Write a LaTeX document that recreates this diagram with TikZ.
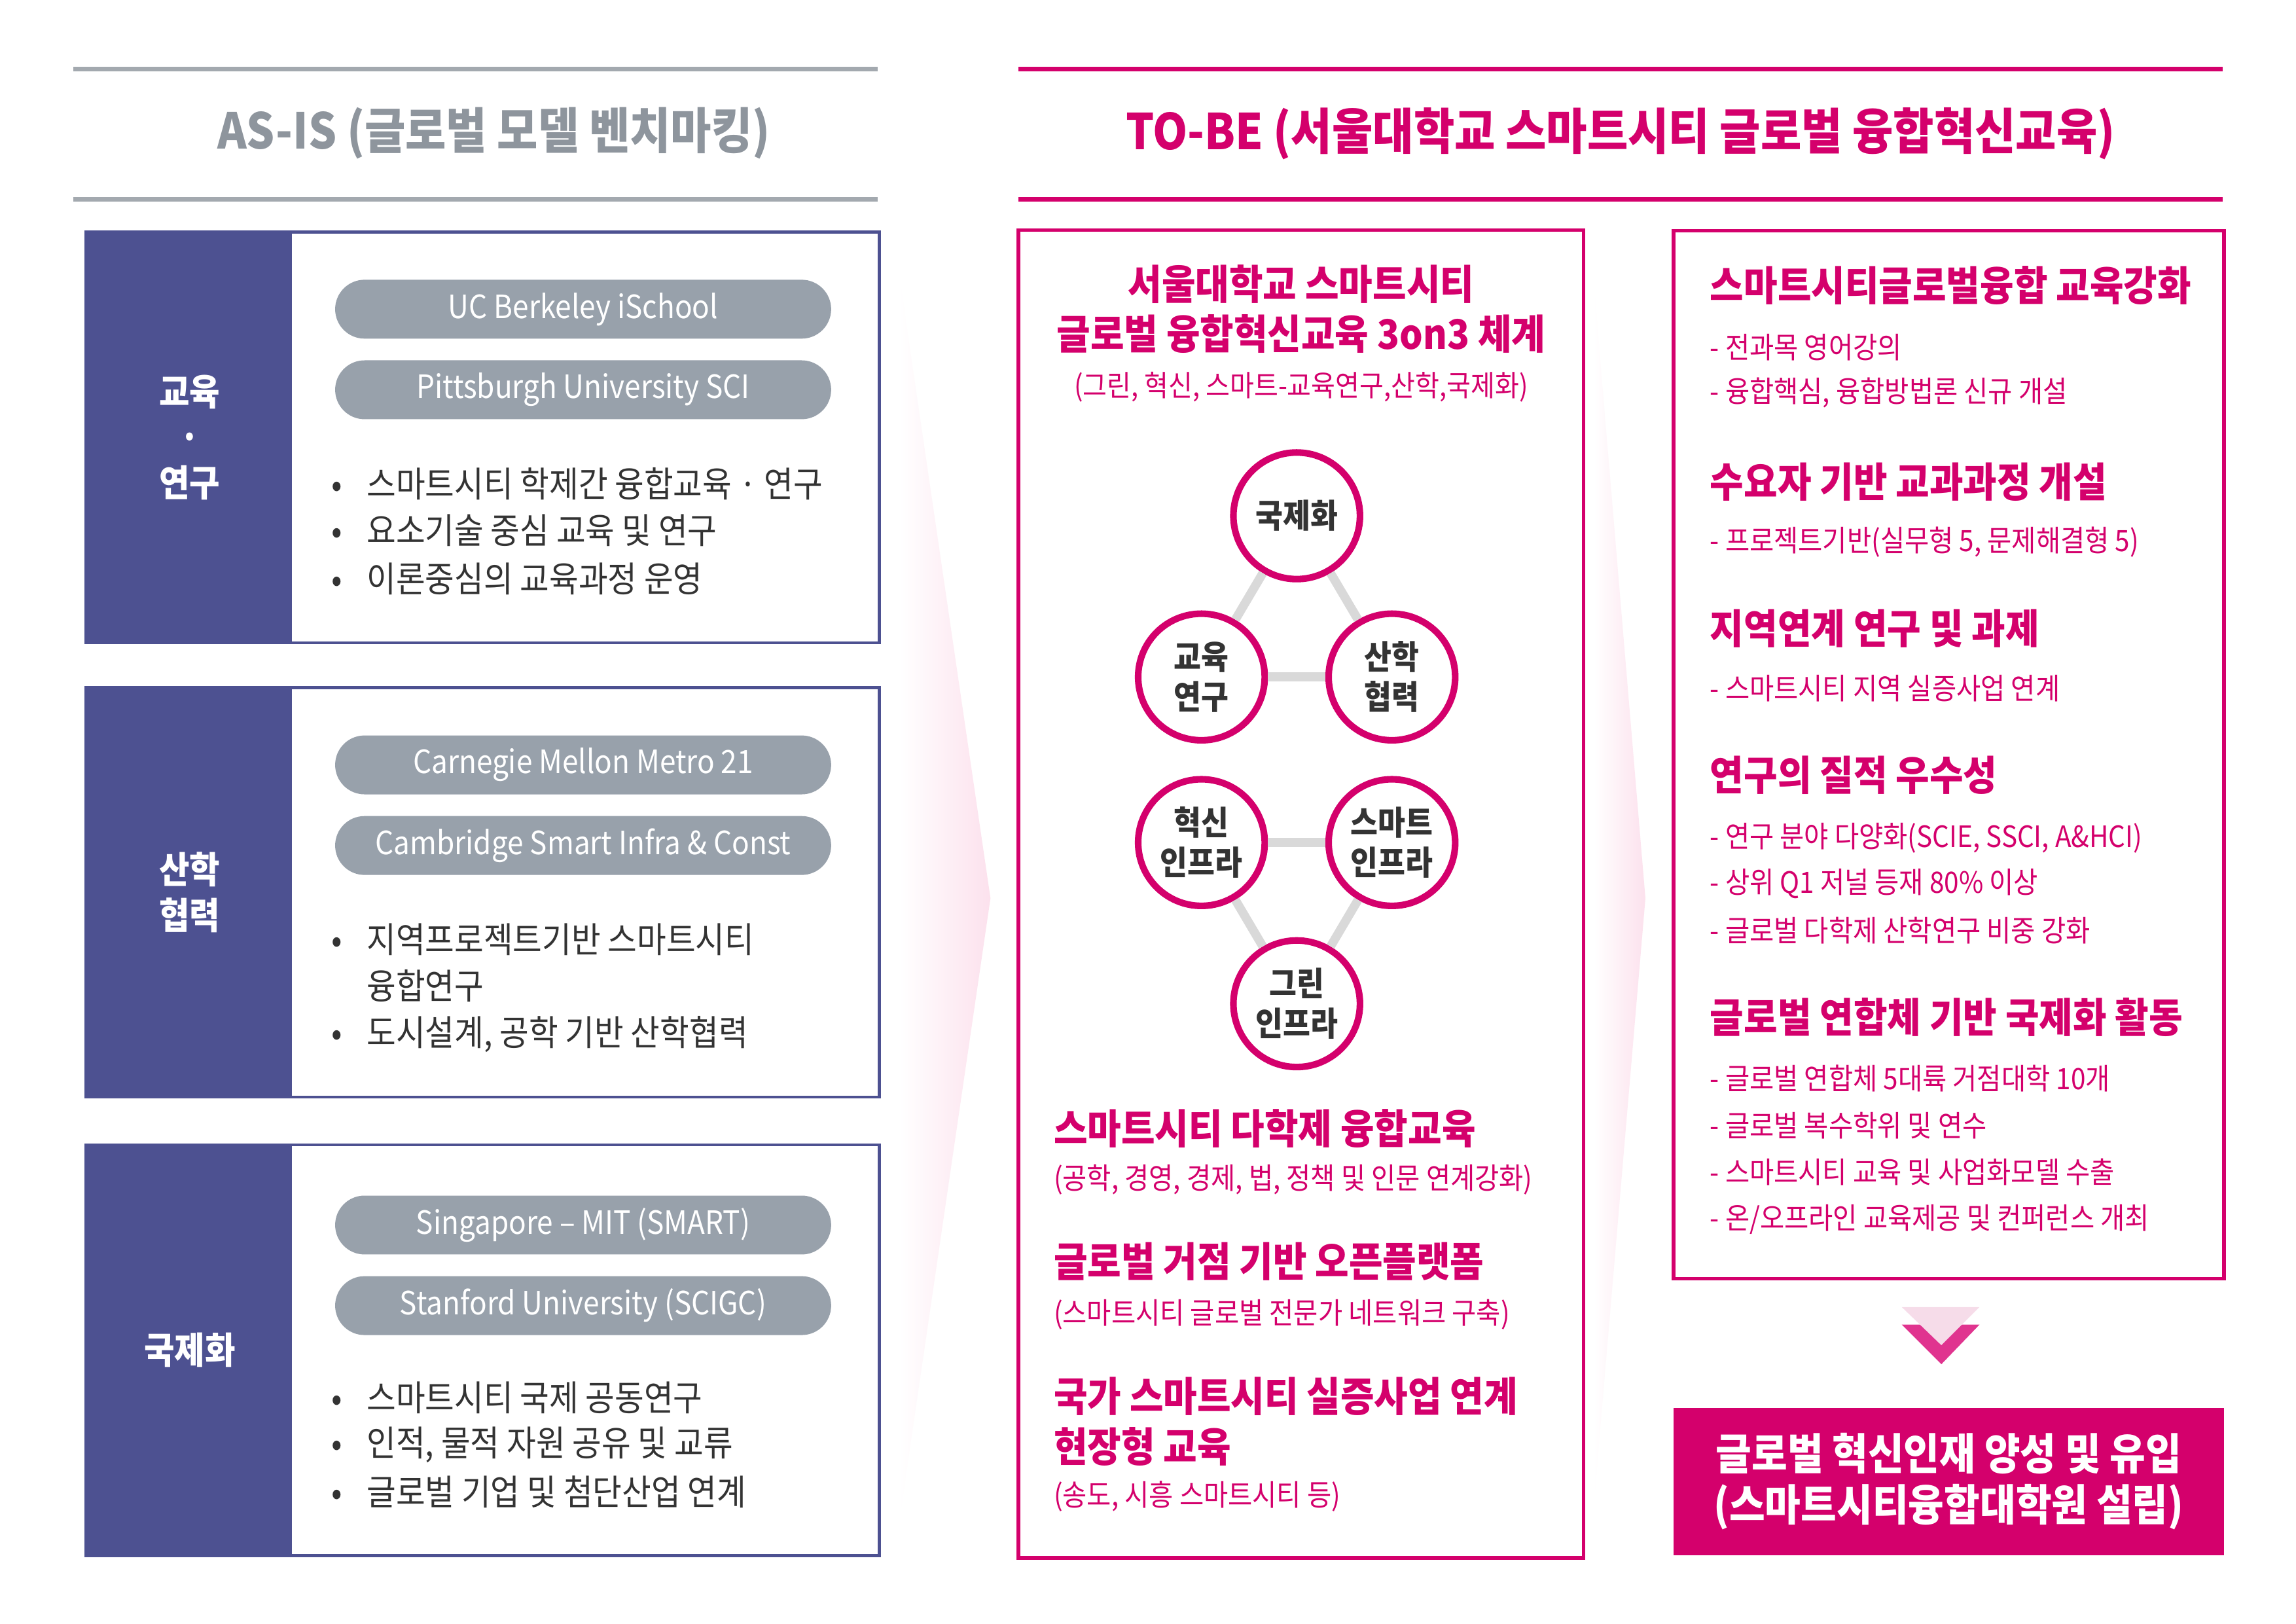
\documentclass[tikz,border=0pt]{standalone}
\usepackage{fontspec}
\setmainfont{Noto Sans CJK KR}[FakeStretch=0.9]
\definecolor{mag}{HTML}{D4006C}
\definecolor{navy}{HTML}{4D5191}
\definecolor{pillg}{HTML}{98A1AB}
\definecolor{titleg}{HTML}{8E959D}
\definecolor{lineg}{HTML}{A3A9AF}
\definecolor{txt}{HTML}{333333}
\definecolor{conng}{HTML}{D9D9D9}
\definecolor{pinkl}{HTML}{FCE1ED}
\definecolor{arrowd}{HTML}{E0348F}
\definecolor{arrowl}{HTML}{F6DCE9}
\tikzset{
  hdrline/.style={line width=3pt},
  boxn/.style={draw=navy, line width=2pt, inner sep=0pt, outer sep=0pt, fill=white},
  sidebar/.style={fill=navy, inner sep=0pt, outer sep=0pt, text=white, align=center,
    font=\bfseries\fontsize{25}{31}\selectfont},
  boxm/.style={draw=mag, line width=2.5pt, inner sep=0pt, outer sep=0pt},
  pill/.style={fill=pillg, rounded corners=20pt, minimum width=337pt, minimum height=40pt,
    text=white, inner sep=0pt, font=\fontsize{21.8}{24}\selectfont},
  bul/.style={anchor=west, text=txt, inner sep=0pt, font=\fontsize{24}{32}\selectfont, align=left},
  ttl/.style={font=\bfseries\fontsize{33.5}{40}\selectfont, inner sep=0pt},
  mtitle/.style={text=mag, align=center, inner sep=0pt, font=\bfseries\fontsize{27.7}{34}\selectfont},
  msub/.style={text=mag, inner sep=0pt, font=\fontsize{19.8}{22}\selectfont},
  circ/.style={circle, draw=mag, line width=4.5pt, fill=white, minimum size=86pt, inner sep=0pt,
    align=center, text=txt, font=\bfseries\fontsize{22.5}{27}\selectfont},
  conn/.style={draw=conng, line width=6pt},
  head/.style={anchor=west, text=mag, inner sep=0pt, align=left, font=\bfseries\fontsize{27.7}{34}\selectfont},
  sub/.style={anchor=west, text=mag, inner sep=0pt, font=\fontsize{20}{22}\selectfont},
}
\newcommand{\bl}{\makebox[24pt][l]{•}}
\begin{document}
\begin{tikzpicture}[x=0.9955pt,y=-0.9955pt]
\useasboundingbox (0,0) rectangle (1567.05,1108.0);
\fill[white] (0,0) rectangle (1567.05,1108.0);

% gradient chevrons
\shade[left color=white, right color=pinkl] (614,190) -- (676,613) -- (614,1036) -- cycle;
\shade[left color=white, right color=pinkl] (1088,196) -- (1123,613) -- (1088,1024) -- cycle;

% headers
\draw[hdrline, draw=lineg] (50,47) -- (599,47);
\draw[hdrline, draw=lineg] (50,136) -- (599,136);
\node[ttl, text=titleg] (asis) at (337,91) {AS-IS (글로벌 모델 벤치마킹)};
\draw[hdrline, draw=mag] (695,47) -- (1517,47);
\draw[hdrline, draw=mag] (695,136) -- (1517,136);
\node[ttl, text=mag] (tobe) at (1106,91) {TO-BE (서울대학교 스마트시티 글로벌 융합혁신교육)};

% ===== left box 1
\node[boxn, minimum width=539pt, minimum height=279pt] (b1) at (329.5,298.5) {};
\node[sidebar, minimum width=139pt, minimum height=279pt] (s1) at (129.5,298.5) {교육\\·\\연구};
\node[pill] (p11) at (398,211) {UC Berkeley iSchool};
\node[pill] (p12) at (398,266) {Pittsburgh University SCI};
\node[bul] (t11) at (226,330) {\bl 스마트시티 학제간 융합교육 · 연구};
\node[bul] (t12) at (226,362) {\bl 요소기술 중심 교육 및 연구};
\node[bul] (t13) at (226,395) {\bl 이론중심의 교육과정 운영};

% ===== left box 2
\node[boxn, minimum width=539pt, minimum height=278pt] (b2) at (329.5,609) {};
\node[sidebar, minimum width=139pt, minimum height=278pt] (s2) at (129.5,609) {산학\\협력};
\node[pill] (p21) at (398,522) {Carnegie Mellon Metro 21};
\node[pill] (p22) at (398,577) {Cambridge Smart Infra \& Const};
\node[bul] (t21) at (226,641) {\bl 지역프로젝트기반 스마트시티};
\node[bul] (t22) at (226,673) {\makebox[24pt][l]{}융합연구};
\node[bul] (t23) at (226,706) {\bl 도시설계, 공학 기반 산학협력};

% ===== left box 3
\node[boxn, minimum width=539pt, minimum height=279pt] (b3) at (329.5,921.5) {};
\node[sidebar, minimum width=139pt, minimum height=279pt] (s3) at (129.5,921.5) {국제화};
\node[pill] (p31) at (398,836) {Singapore – MIT (SMART)};
\node[pill] (p32) at (398,891) {Stanford University (SCIGC)};
\node[bul] (t31) at (226,954) {\bl 스마트시티 국제 공동연구};
\node[bul] (t32) at (226,986) {\bl 인적, 물적 자원 공유 및 교류};
\node[bul] (t33) at (226,1018) {\bl 글로벌 기업 및 첨단산업 연계};

% ===== middle box
\node[boxm, minimum width=384pt, minimum height=902pt] (mid) at (888,610) {};
\node[mtitle] (mt) at (888,211) {서울대학교 스마트시티\\글로벌 융합혁신교육 3on3 체계};
\node[msub] (ms) at (888,264) {(그린, 혁신, 스마트-교육연구,산학,국제화)};

\node[circ] (c1) at (885,352) {국제화};
\node[circ] (c2) at (820,462) {교육\\연구};
\node[circ] (c3) at (950,462) {산학\\협력};
\node[circ] (c4) at (820,575) {혁신\\인프라};
\node[circ] (c5) at (950,575) {스마트\\인프라};
\node[circ] (c6) at (885,685) {그린\\인프라};
\draw[conn] (c1) -- (c2);
\draw[conn] (c1) -- (c3);
\draw[conn] (c2) -- (c3);
\draw[conn] (c4) -- (c5);
\draw[conn] (c4) -- (c6);
\draw[conn] (c5) -- (c6);

\node[head] (m1) at (719,770) {스마트시티 다학제 융합교육};
\node[sub] (m1s) at (719,805) {(공학, 경영, 경제, 법, 정책 및 인문 연계강화)};
\node[head] (m2) at (719,861) {글로벌 거점 기반 오픈플랫폼};
\node[sub] (m2s) at (719,897) {(스마트시티 글로벌 전문가 네트워크 구축)};
\node[head] (m3) at (719,970) {국가 스마트시티 실증사업 연계\\현장형 교육};
\node[sub] (m3s) at (719,1021) {(송도, 시흥 스마트시티 등)};

% ===== right box
\node[boxm, minimum width=374pt, minimum height=712pt] (rb) at (1330,515) {};
\node[head] (r1) at (1167,195) {스마트시티글로벌융합 교육강화};
\node[sub] (r1a) at (1167,237) {- 전과목 영어강의};
\node[sub] (r1b) at (1167,268) {- 융합핵심, 융합방법론 신규 개설};
\node[head] (r2) at (1167,329) {수요자 기반 교과과정 개설};
\node[sub] (r2a) at (1167,370) {- 프로젝트기반(실무형 5, 문제해결형 5)};
\node[head] (r3) at (1167,429) {지역연계 연구 및 과제};
\node[sub] (r3a) at (1167,470) {- 스마트시티 지역 실증사업 연계};
\node[head] (r4) at (1167,529) {연구의 질적 우수성};
\node[sub] (r4a) at (1167,572) {- 연구 분야 다양화(SCIE, SSCI, A\&HCI)};
\node[sub] (r4b) at (1167,603) {- 상위 Q1 저널 등재 80\% 이상};
\node[sub] (r4c) at (1167,635) {- 글로벌 다학제 산학연구 비중 강화};
\node[head] (r5) at (1167,694) {글로벌 연합체 기반 국제화 활동};
\node[sub] (r5a) at (1167,736) {- 글로벌 연합체 5대륙 거점대학 10개};
\node[sub] (r5b) at (1167,768) {- 글로벌 복수학위 및 연수};
\node[sub] (r5c) at (1167,800) {- 스마트시티 교육 및 사업화모델 수출};
\node[sub] (r5d) at (1167,832) {- 온/오프라인 교육제공 및 컨퍼런스 개최};

% down arrow
\fill[arrowd] (1298,904) -- (1351,904) -- (1325,931) -- cycle;
\fill[arrowl] (1298,892) -- (1351,892) -- (1325,918) -- cycle;

% result box
\node[fill=mag, minimum width=374pt, minimum height=100pt, inner sep=0pt, text=white, align=center,
  font=\bfseries\fontsize{29.4}{35}\selectfont] (res) at (1330,1011) {글로벌 혁신인재 양성 및 유입\\(스마트시티융합대학원 설립)};
\end{tikzpicture}
\end{document}
